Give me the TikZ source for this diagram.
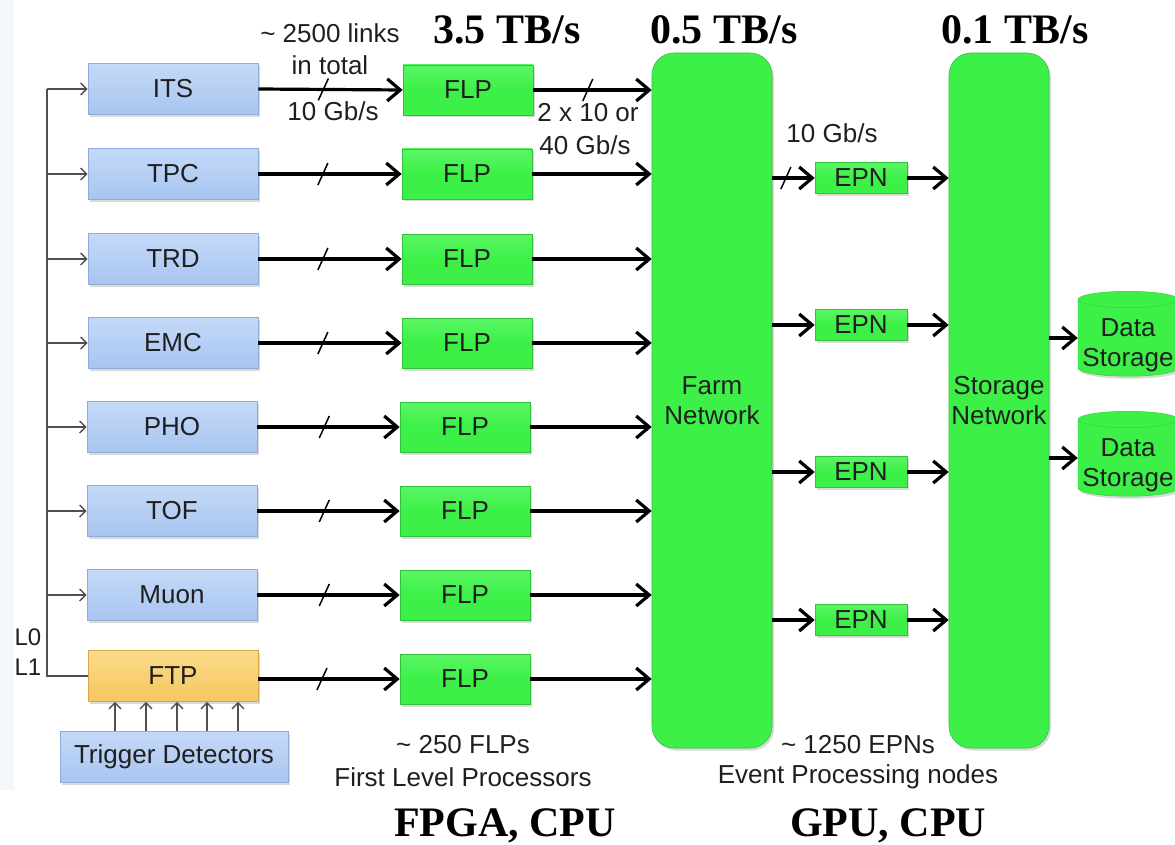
\documentclass[tikz,border=0pt]{standalone}
\usepackage{fontspec}
\setsansfont{Liberation Sans}
\newfontfamily\headfont{Liberation Serif}
\usetikzlibrary{arrows.meta,shapes.geometric,shadows,decorations.markings}

\definecolor{detTop}{HTML}{C4D9F8}
\definecolor{detBot}{HTML}{A8C5F0}
\definecolor{detLine}{HTML}{8DACD6}
\definecolor{grnTop}{HTML}{5AF664}
\definecolor{grnBot}{HTML}{3DF048}
\definecolor{grnLine}{HTML}{30C23A}
\definecolor{ftpTop}{HTML}{FADA8A}
\definecolor{ftpBot}{HTML}{F6C85F}
\definecolor{ftpLine}{HTML}{D8A848}
\definecolor{trigGray}{HTML}{505050}
\definecolor{edgeTint}{HTML}{F3F7FA}

\newcommand{\twolines}[2]{\begin{tabular}{@{}c@{}}#1\\#2\end{tabular}}

\tikzset{
  lbl/.style={font=\sffamily\fontsize{26}{30}\selectfont, text=black!88},
  head/.style={font=\headfont\bfseries\fontsize{42}{46}\selectfont},
  shadowed/.style={drop shadow={shadow xshift=2pt, shadow yshift=-2.5pt, opacity=0.25, fill=black!60}},
  detbox/.style={lbl, draw=detLine, line width=0.8pt, top color=detTop, bottom color=detBot,
    minimum width=170pt, minimum height=51pt, inner sep=0pt, shadowed},
  ftpbox/.style={detbox, draw=ftpLine, top color=ftpTop, bottom color=ftpBot},
  flpbox/.style={lbl, draw=grnLine, line width=0.6pt, top color=grnTop, bottom color=grnBot,
    middle color=grnBot, minimum width=130pt, minimum height=50pt, inner sep=0pt, shadowed},
  epnbox/.style={flpbox, minimum width=92pt, minimum height=31pt},
  netbox/.style={lbl, draw=grnLine, line width=0.6pt, fill=grnBot, rounded corners=22pt,
    minimum height=695pt, inner sep=0pt, align=center, shadowed},
  storebox/.style={lbl, draw=grnLine!60!grnBot, line width=0.5pt, fill=grnBot, shape=cylinder,
    shape border rotate=90, aspect=0.18, minimum width=100pt, minimum height=80pt,
    inner sep=0pt, cylinder uses custom fill, cylinder end fill=grnBot!85!white,
    cylinder body fill=grnBot, shadowed},
  link/.style={line width=3.2pt, -{Straight Barb[length=13pt,width=22pt,line width=3.2pt]}},
  trig/.style={line width=1.4pt, draw=trigGray},
  trigarrow/.style={trig, -{Straight Barb[length=6pt,width=12pt,line width=1.4pt]}},
  cut/.style={postaction={decorate}, decoration={markings,
    mark=at position #1 with {\draw[line width=1.5pt, -] (-5pt,-11pt) -- (5pt,11pt);}}},
}

\begin{document}
\begin{tikzpicture}[x=1pt,y=-1pt]
\useasboundingbox (0,0) rectangle (1175,845);
\clip (0,0) rectangle (1175,845);
\fill[edgeTint] (0,0) rectangle (14,790);

% detectors
\node[detbox] (its)  at (173,89)  {ITS};
\node[detbox] (tpc)  at (173,174) {TPC};
\node[detbox] (trd)  at (173,259) {TRD};
\node[detbox] (emc)  at (173,343) {EMC};
\node[detbox] (pho)  at (172,427) {PHO};
\node[detbox] (tof)  at (172,511) {TOF};
\node[detbox] (muon) at (172,595) {Muon};
\node[ftpbox] (ftp)  at (173,676) {FTP};
\node[detbox, minimum width=228pt] (trgdet) at (174,757) {Trigger Detectors};

% first level processors
\node[flpbox] (flp1) at (468,90)  {FLP};
\node[flpbox] (flp2) at (467,174) {FLP};
\node[flpbox] (flp3) at (467,259) {FLP};
\node[flpbox] (flp4) at (467,343) {FLP};
\node[flpbox] (flp5) at (465,427) {FLP};
\node[flpbox] (flp6) at (465,511) {FLP};
\node[flpbox] (flp7) at (465,595) {FLP};
\node[flpbox] (flp8) at (465,679) {FLP};

% networks
\node[netbox, minimum width=120pt] (farm) at (712,400.5) {Farm\\Network};
\node[netbox, minimum width=100pt] (store) at (999,400.5) {Storage\\Network};

% event processing nodes
\node[epnbox] (epn1) at (861,178) {EPN};
\node[epnbox] (epn2) at (861,325) {EPN};
\node[epnbox] (epn3) at (861,472) {EPN};
\node[epnbox] (epn4) at (861,620) {EPN};

% data storage
\node[storebox] (ds1) at (1128,338) {\raisebox{-7pt}[\height][\depth]{\twolines{Data}{Storage}}};
\node[storebox] (ds2) at (1128,458) {\raisebox{-7pt}[\height][\depth]{\twolines{Data}{Storage}}};

% trigger distribution
\coordinate (trtop) at (47,89);
\coordinate (trbot) at (47,676);
\draw[trig] (ftp.west) -- (trbot) -- (trtop);
\draw[trigarrow] (trtop) -- (its.west);
\foreach \d in {tpc,trd,emc,pho,tof,muon}
  \draw[trigarrow] (trtop |- \d.west) -- (\d.west);
\foreach \x in {115,146,177,207,238}
  \draw[trigarrow] (trgdet.north -| \x,0) -- (ftp.south -| \x,0);
\node[lbl, font=\sffamily\fontsize{24}{26}\selectfont] (l0) at (28,637) {L0};
\node[lbl, font=\sffamily\fontsize{24}{26}\selectfont] (l1) at (28,667) {L1};

% detector to FLP links
\draw[link, cut=0.45] (its.east) -- (flp1.west);
\draw[link, cut=0.45] (tpc.east) -- (flp2.west);
\draw[link, cut=0.45] (trd.east) -- (flp3.west);
\draw[link, cut=0.45] (emc.east) -- (flp4.west);
\draw[link, cut=0.47] (pho.east) -- (flp5.west);
\draw[link, cut=0.47] (tof.east) -- (flp6.west);
\draw[link, cut=0.47] (muon.east) -- (flp7.west);
\draw[link, cut=0.45] (ftp.east |- flp8.west) -- (flp8.west);

% FLP to farm network
\draw[link, cut=0.46] (flp1.east) -- (flp1.east -| farm.west);
\foreach \i in {2,...,8}
  \draw[link] (flp\i.east) -- (flp\i.east -| farm.west);

% farm network to EPNs to storage
\draw[link, cut=0.32] (epn1.west -| farm.east) -- (epn1.west);
\foreach \i in {2,3,4}
  \draw[link] (epn\i.west -| farm.east) -- (epn\i.west);
\foreach \i in {1,...,4}
  \draw[link] (epn\i.east) -- (epn\i.east -| store.west);
\draw[link] (ds1.west -| store.east) -- (ds1.west);
\draw[link] (ds2.west -| store.east) -- (ds2.west);

% link annotations
\node[lbl] (nlinks) at (330,33) {\textasciitilde\ 2500 links};
\node[lbl] (ntotal) at (330,65) {in total};
\node[lbl] (rate1)  at (333,111) {10 Gb/s};
\node[lbl] (rate2)  at (588,113) {2 x 10 or};
\node[lbl] (rate3)  at (585,145) {40 Gb/s};
\node[lbl] (rate4)  at (832,133) {10 Gb/s};
\node[lbl] (nflp)   at (463,745) {\textasciitilde\ 250 FLPs};
\node[lbl] (dflp)   at (463,777) {First Level Processors};
\node[lbl] (nepn)   at (858,745) {\textasciitilde\ 1250 EPNs};
\node[lbl] (depn)   at (858,777) {Event Processing nodes};

% throughput and hardware headings
\node[head] (bw1) at (507,30)  {3.5 TB/s};
\node[head] (bw2) at (724,30)  {0.5 TB/s};
\node[head] (bw3) at (1015,30) {0.1 TB/s};
\node[head] (hw1) at (505,826) {FPGA, CPU};
\node[head] (hw2) at (888,826) {GPU, CPU};
\end{tikzpicture}
\end{document}
